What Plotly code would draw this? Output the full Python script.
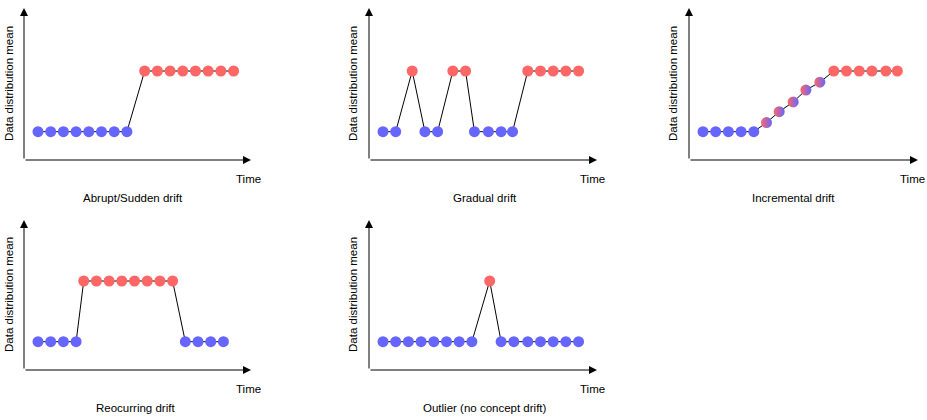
import plotly.graph_objects as go

# ---------------- data ----------------
titles = ["Abrupt/Sudden drift", "Gradual drift", "Incremental drift",
          "Reocurring drift", "Outlier (no concept drift)"]
x_label = "Time"
y_label = "Data distribution mean"

# time positions and data-distribution mean of each observation
abrupt_t = [1, 2, 3, 4, 5, 6, 7, 8, 9.4, 10.4, 11.4, 12.4, 13.4, 14.4, 15.4, 16.4]
abrupt_v = [1, 1, 1, 1, 1, 1, 1, 1, 3, 3, 3, 3, 3, 3, 3, 3]
abrupt_c = [0, 0, 0, 0, 0, 0, 0, 0, 1, 1, 1, 1, 1, 1, 1, 1]

gradual_t = [1.0, 2.0, 3.3, 4.3, 5.3, 6.5, 7.5, 8.2, 9.3, 10.3, 11.2, 12.4, 13.4, 14.4, 15.4, 16.4]
gradual_v = [1, 1, 3, 1, 1, 3, 3, 1, 1, 1, 1, 3, 3, 3, 3, 3]
gradual_c = [0, 0, 1, 0, 0, 1, 1, 0, 0, 0, 0, 1, 1, 1, 1, 1]

incremental_t = [1, 2, 3, 4, 5, 6, 7, 8.1, 9.1, 10.2, 11.3, 12.3, 13.3, 14.3, 15.4, 16.3]
incremental_v = [1, 1, 1, 1, 1, 1.3, 1.66, 1.98, 2.37, 2.63, 3, 3, 3, 3, 3, 3]
incremental_c = [0, 0, 0, 0, 0, 0.5, 0.5, 0.5, 0.5, 0.5, 1, 1, 1, 1, 1, 1]

recurring_t = [1, 2, 3, 4, 4.6, 5.6, 6.6, 7.6, 8.6, 9.6, 10.6, 11.6, 12.6, 13.6, 14.6, 15.6]
recurring_v = [1, 1, 1, 1, 3, 3, 3, 3, 3, 3, 3, 3, 1, 1, 1, 1]
recurring_c = [0, 0, 0, 0, 1, 1, 1, 1, 1, 1, 1, 1, 0, 0, 0, 0]

outlier_t = [1, 2, 3, 4, 5, 6, 7, 8, 9.4, 10.3, 11.3, 12.4, 13.4, 14.4, 15.4, 16.4]
outlier_v = [1, 1, 1, 1, 1, 1, 1, 1, 3, 1, 1, 1, 1, 1, 1, 1]
outlier_c = [0, 0, 0, 0, 0, 0, 0, 0, 1, 0, 0, 0, 0, 0, 0, 0]

series = [(abrupt_t, abrupt_v, abrupt_c), (gradual_t, gradual_v, gradual_c),
          (incremental_t, incremental_v, incremental_c),
          (recurring_t, recurring_v, recurring_c), (outlier_t, outlier_v, outlier_c)]

# ---------------- layout / style ----------------
W, H = 927, 420
BLUE = "#6666FF"
RED = "#FF6666"
FONT = dict(family="Liberation Sans, Arial, sans-serif", size=11.5, color="#000000")

# panel geometry in pixels: origin x, arrow tip x, origin y, arrow tip y
panels = [(24, 251, 160, 8), (369, 597, 160, 8), (689, 918, 160, 8),
          (24, 251, 370, 220), (369, 597, 370, 220)]
title_cx = [133, 485, 793, 135, 485]
time_cx = [248, 592, 912, 248, 592]
ylab_cx = [9, 353, 673, 9, 353]
STEP = 12.7      # px per time unit
T0 = 1.3         # px offset of t=0 from axis origin
VPX = 30.35      # px per mean unit
V1 = 28.3        # px above axis for value 1


def PX(p):
    return p / W


def PY(p):
    return 1 - p / H


fig = go.Figure()
annotations = []
layout_axes = {}

for i, ((ox, tx, oy, ty), (t, v, c), title) in enumerate(zip(panels, series, titles)):
    k = "" if i == 0 else str(i + 1)
    xa, ya = "x" + k, "y" + k
    w = tx - ox
    h = oy - ty
    layout_axes["xaxis" + k] = dict(domain=[PX(ox), PX(tx)], anchor=ya, visible=False,
                                    range=[-T0 / STEP, (w - T0) / STEP], fixedrange=True)
    layout_axes["yaxis" + k] = dict(domain=[PY(oy), PY(ty)], anchor=xa, visible=False,
                                    range=[1 - V1 / VPX, 1 + (h - V1) / VPX], fixedrange=True)

    # connecting line
    fig.add_trace(go.Scatter(x=t, y=v, mode="lines", xaxis=xa, yaxis=ya,
                             line=dict(color="black", width=1), hoverinfo="skip",
                             showlegend=False))
    # pure markers
    for val, col in [(0, BLUE), (1, RED)]:
        xs = [a for a, s in zip(t, c) if s == val]
        ys = [b for b, s in zip(v, c) if s == val]
        if xs:
            fig.add_trace(go.Scatter(x=xs, y=ys, mode="markers", xaxis=xa, yaxis=ya,
                                     marker=dict(color=col, size=11, line=dict(width=0)),
                                     showlegend=False))
    # transitional (mixed) markers
    xs = [a for a, s in zip(t, c) if 0 < s < 1]
    ys = [b for b, s in zip(v, c) if 0 < s < 1]
    if xs:
        fig.add_trace(go.Scatter(x=xs, y=ys, mode="markers", xaxis=xa, yaxis=ya,
                                 marker=dict(color=RED, size=11, line=dict(width=0),
                                             gradient=dict(type="horizontal", color=BLUE)),
                                 showlegend=False))

    # axis arrows
    annotations.append(dict(xref="paper", yref="paper", x=PX(tx), y=PY(oy),
                            ax=-(tx - ox), ay=0, axref="pixel", ayref="pixel",
                            text="", showarrow=True, arrowhead=2, arrowsize=1.6,
                            arrowwidth=1, arrowcolor="#000000"))
    annotations.append(dict(xref="paper", yref="paper", x=PX(ox), y=PY(ty),
                            ax=0, ay=(oy - ty), axref="pixel", ayref="pixel",
                            text="", showarrow=True, arrowhead=2, arrowsize=1.6,
                            arrowwidth=1, arrowcolor="#000000"))
    # texts
    annotations.append(dict(xref="paper", yref="paper", x=PX(ylab_cx[i]), y=PY((oy + ty) / 2),
                            text=y_label, textangle=-90, showarrow=False, font=FONT,
                            xanchor="center", yanchor="middle"))
    annotations.append(dict(xref="paper", yref="paper", x=PX(time_cx[i]), y=PY(oy + 18.5),
                            text=x_label, showarrow=False, font=FONT,
                            xanchor="center", yanchor="middle"))
    annotations.append(dict(xref="paper", yref="paper", x=PX(title_cx[i]),
                            y=PY(oy + 37.5), text=title, showarrow=False, font=FONT,
                            xanchor="center", yanchor="middle"))

fig.update_layout(width=W, height=H, margin=dict(l=0, r=0, t=0, b=0),
                  paper_bgcolor="white", plot_bgcolor="white",
                  annotations=annotations, showlegend=False, **layout_axes)

fig.write_html("out.html", config=dict(displayModeBar=False),
               post_script="document.body.style.margin='0';document.body.style.padding='0';")
